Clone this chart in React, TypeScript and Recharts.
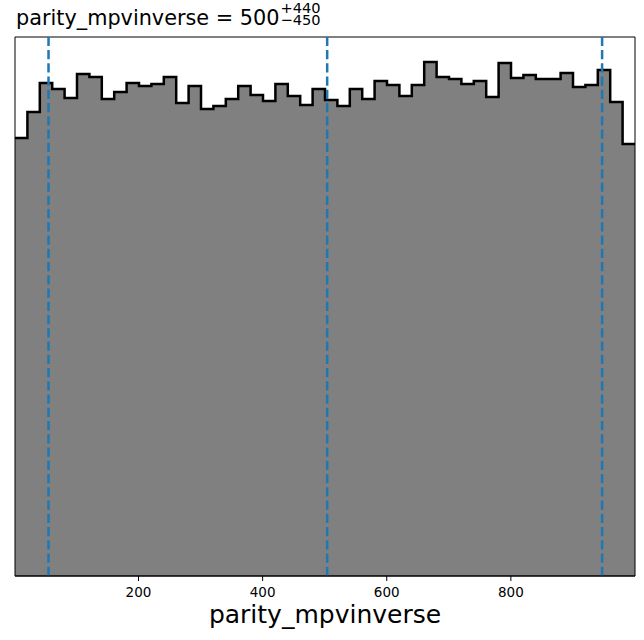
import React from 'react';
import {
  ComposedChart,
  Area,
  XAxis,
  YAxis,
  ReferenceLine,
  ReferenceArea,
} from 'recharts';

// histogram range and counts per bin (50 bins)
const X_MIN = 1;
const X_MAX = 1000;
const counts = [
  438, 464, 493, 487, 478, 502, 499, 477, 484, 493,
  490, 492, 499, 473, 490, 467, 470, 477, 490, 481,
  475, 492, 480, 471, 487, 476, 470, 487, 477, 495,
  491, 480, 491, 514, 499, 497, 492, 495, 479, 513,
  498, 501, 497, 497, 503, 489, 491, 506, 474, 432,
];
// 16th / 50th / 84th percentiles
const quantiles = [55, 504, 947];
const xTicks = [200, 400, 600, 800];
const Y_TOP = 539;

const binWidth = (X_MAX - X_MIN) / counts.length;
const histData = counts.map((c, i) => ({ x: X_MIN + i * binWidth, count: c }));
histData.push({ x: X_MAX, count: counts[counts.length - 1] });

const FONT = '"DejaVu Sans", sans-serif';

export default function App() {
  return (
    <div style={{ position: 'absolute', left: 0, top: 0, width: 644, height: 640, background: '#fff', fontFamily: FONT }}>
      {/* title with asymmetric errors */}
      <div style={{ position: 'absolute', left: 16, top: 2, fontSize: 20.8, color: '#000', whiteSpace: 'nowrap', lineHeight: '24px' }}>
        parity_mpvinverse = 500
        <span style={{ display: 'inline-block', verticalAlign: 'baseline', fontSize: 14.6, lineHeight: '12px', marginLeft: 1 }}>
          <span style={{ display: 'block' }}>+440</span>
          <span style={{ display: 'block' }}>−450</span>
        </span>
      </div>

      <ComposedChart
        width={644}
        height={640}
        data={histData}
        margin={{ top: 37, right: 9, left: 15, bottom: 0 }}
      >
        <XAxis
          dataKey="x"
          type="number"
          domain={[X_MIN, X_MAX]}
          ticks={xTicks}
          height={64}
          tickSize={5}
          tickMargin={6}
          fontSize={13.5}
          fontFamily={FONT}
          tickLine={{ stroke: '#000' }}
          axisLine={{ stroke: '#000' }}
          tick={{ fill: '#000', fontSize: 13.5, fontFamily: FONT }}
        />
        <YAxis hide width={0} domain={[0, Y_TOP]} />
        <Area
          dataKey="count"
          type="stepAfter"
          fill="#808080"
          fillOpacity={1}
          stroke="#000"
          strokeWidth={2.5}
          isAnimationActive={false}
        />
        {quantiles.map((q) => (
          <ReferenceLine key={q} x={q} stroke="#1f77b4" strokeWidth={2.5} strokeDasharray="9.25 4" />
        ))}
        <ReferenceArea x1={X_MIN} x2={X_MAX} y1={0} y2={Y_TOP} fill="none" stroke="#000" strokeWidth={1} />
      </ComposedChart>

      <div style={{ position: 'absolute', left: 0, width: 650, top: 602, textAlign: 'center', fontSize: 25, lineHeight: 1, color: '#000' }}>
        parity_mpvinverse
      </div>
    </div>
  );
}
